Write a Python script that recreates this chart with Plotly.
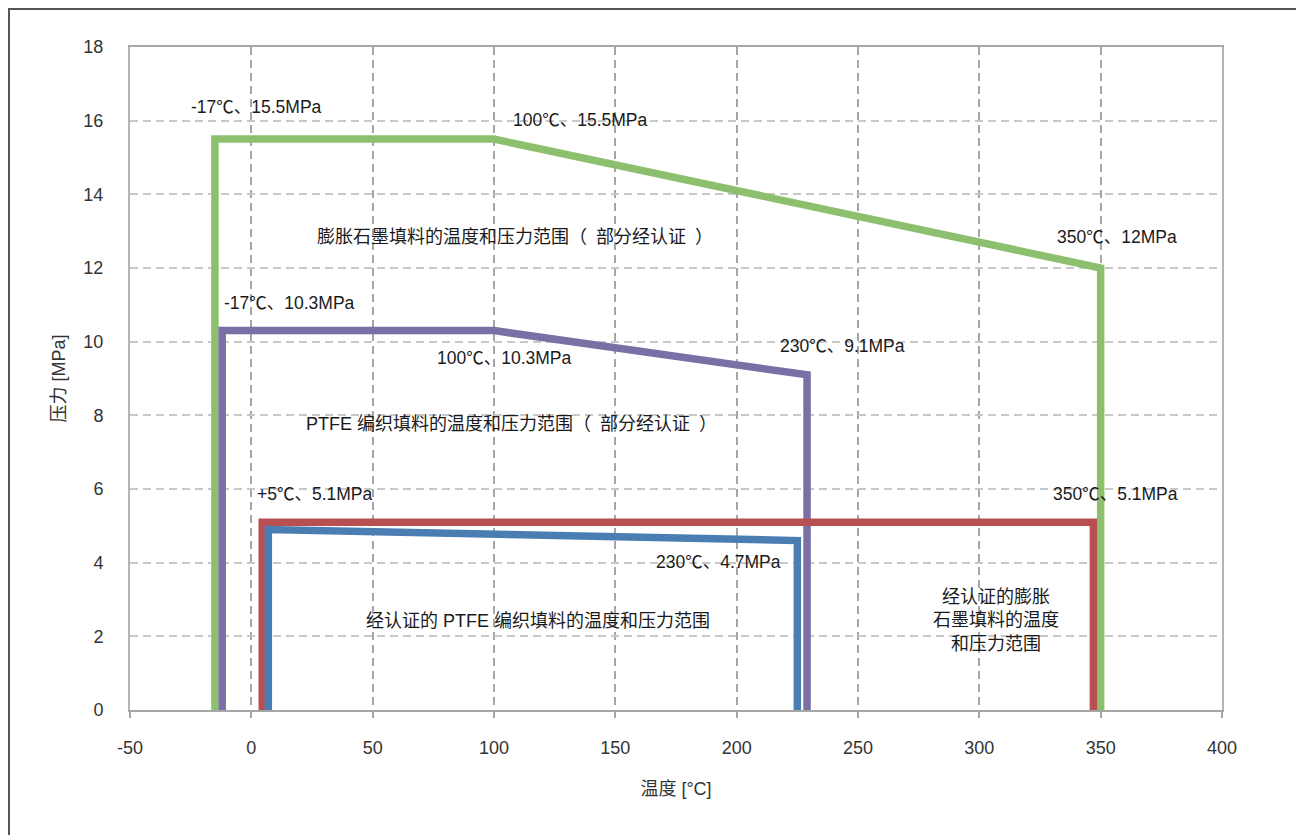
import plotly.graph_objects as go

# ---- data ----
green_x = [-15, -15, 100, 350, 350]
green_y = [0, 15.5, 15.5, 12, 0]
purple_x = [-12, -12, 100, 229, 229]
purple_y = [0, 10.3, 10.3, 9.1, 0]
red_x = [4.5, 4.5, 347, 347]
red_y = [0, 5.1, 5.1, 0]
blue_x = [7, 7, 225, 225]
blue_y = [0, 4.9, 4.6, 0]

x_ticks = [-50, 0, 50, 100, 150, 200, 250, 300, 350, 400]
y_ticks = [0, 2, 4, 6, 8, 10, 12, 14, 16, 18]

labels_text = [
    "-17℃、15.5MPa", "100℃、15.5MPa", "350℃、12MPa",
    "膨胀石墨填料的温度和压力范围（\u2002部分经认证\u2002）",
    "-17℃、10.3MPa", "100℃、10.3MPa", "230℃、9.1MPa",
    "PTFE 编织填料的温度和压力范围（\u2002部分经认证\u2002）",
    "+5℃、5.1MPa", "350℃、5.1MPa", "230℃、4.7MPa",
    "经认证的 PTFE 编织填料的温度和压力范围",
    "经认证的膨胀<br>石墨填料的温度<br>和压力范围",
]
labels_x = [2.3, 135.8, 356.7, 108.6, 15.9, 104.5, 243.8, 107.4, 26.2, 356.3, 192.7, 118.1, 306.8]
labels_y = [16.37, 16.02, 12.84, 12.84, 11.05, 9.56, 9.88, 7.77, 5.86, 5.86, 4.02, 2.42, 2.42]
labels_big = [False, False, False, True, False, False, False, True, False, False, False, True, True]

FONT = "Liberation Sans, Arial, Noto Sans CJK SC, sans-serif"

fig = go.Figure()
for xs, ys, col in [
    (green_x, green_y, "#8DC06E"),
    (purple_x, purple_y, "#7B70A6"),
    (red_x, red_y, "#B85052"),
    (blue_x, blue_y, "#4A7DB2"),
]:
    fig.add_trace(go.Scatter(x=xs, y=ys, mode="lines",
                             line=dict(color=col, width=7.5),
                             hoverinfo="skip", showlegend=False))

for t, x, y, big in zip(labels_text, labels_x, labels_y, labels_big):
    fig.add_annotation(x=x, y=y, text=t, showarrow=False,
                       font=dict(size=18 if big else 17.5, color="#1a1a1a", family=FONT),
                       xanchor="center", yanchor="middle")

# outer frame (page has 8px body margin)
L, T, W, H = 122, 39, 1092, 663
fig.add_shape(type="rect", xref="paper", yref="paper",
              x0=(1 - L) / W, x1=(1320 - 8 - L) / W,
              y0=-(850 - 8 - (T + H)) / H, y1=1 + (T - 1) / H,
              line=dict(color="#555555", width=2), layer="below")

fig.update_layout(
    width=1304, height=835,
    margin=dict(l=L, r=1304 - L - W, t=T, b=835 - T - H),
    paper_bgcolor="white", plot_bgcolor="white",
    font=dict(family=FONT, size=18, color="#333333"),
    showlegend=False,
    xaxis=dict(
        range=[-50, 400], tickvals=x_ticks, ticktext=[str(v) for v in x_ticks],
        showgrid=True, gridcolor="#a6a6a6", griddash="8px,5px", gridwidth=1.5,
        zeroline=False, showline=True, linecolor="#a6a6a6", linewidth=2, mirror=True,
        ticks="outside", ticklen=6, tickcolor="#a6a6a6", tickwidth=2,
        ticklabelstandoff=14,
        title=dict(text="温度 [°C]", font=dict(size=18, color="#333333"), standoff=26),
        tickfont=dict(size=18, color="#333333"),
    ),
    yaxis=dict(
        range=[0, 18], tickvals=y_ticks, ticktext=[str(v) for v in y_ticks],
        showgrid=True, gridcolor="#c8c8c8", griddash="8px,5px", gridwidth=1.5,
        zeroline=False, showline=True, linecolor="#b4b4b4", linewidth=2, mirror=True,
        ticks="", ticklabelstandoff=21,
        title=dict(text="压力 [MPa]", font=dict(size=18, color="#333333"), standoff=13),
        tickfont=dict(size=18, color="#333333"),
    ),
)

fig.write_html("out.html")
